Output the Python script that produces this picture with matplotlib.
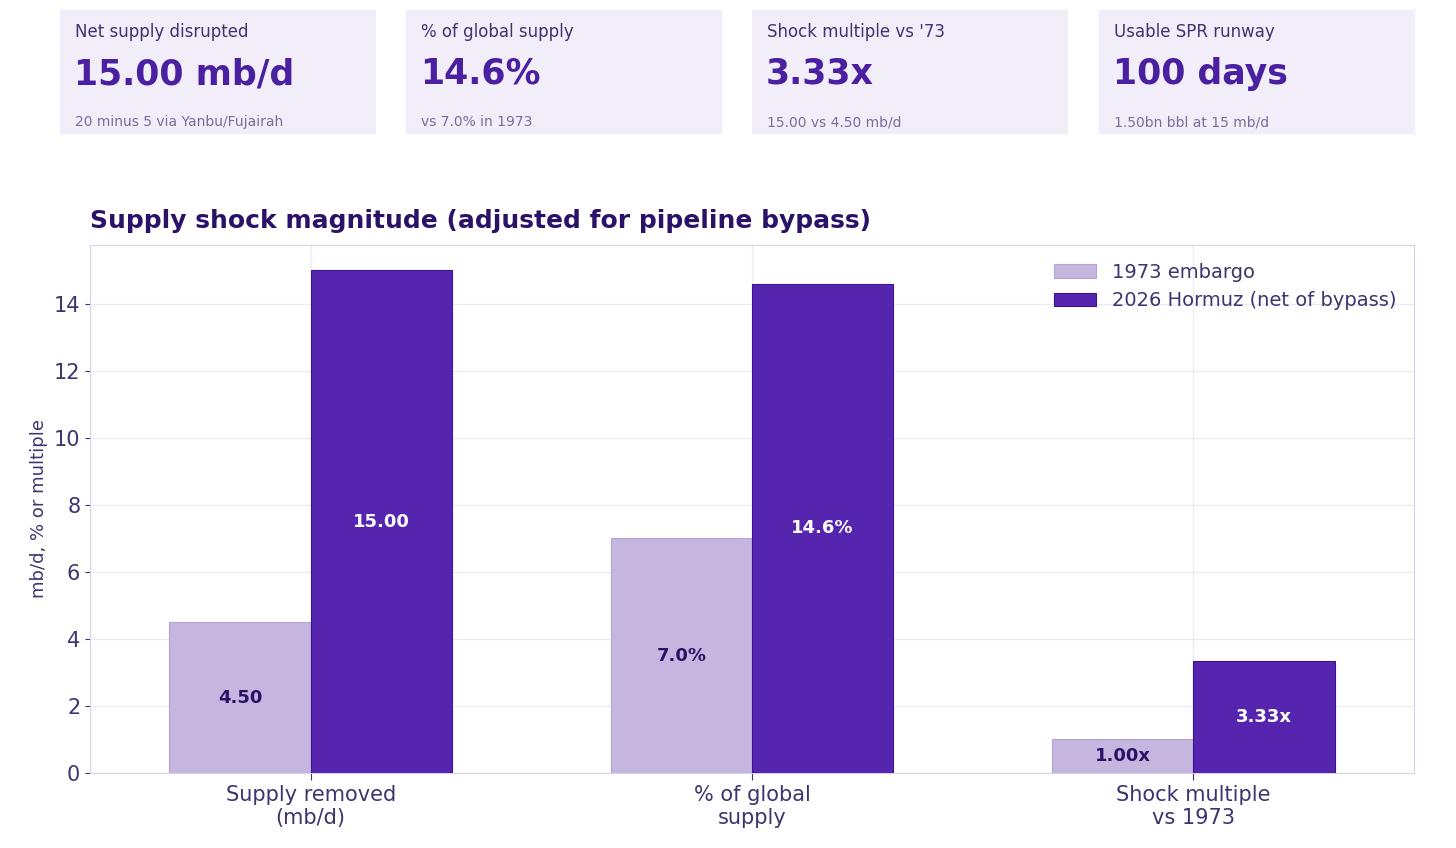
import numpy as np
import matplotlib
matplotlib.use("Agg")
import matplotlib.pyplot as plt
from matplotlib.patches import Rectangle

# data
categories = ["Supply removed\n(mb/d)", "% of global\nsupply", "Shock multiple\nvs 1973"]
vals_1973 = [4.50, 7.0, 1.00]
vals_2026 = [15.00, 14.6, 3.33]
labels_1973 = ["4.50", "7.0%", "1.00x"]
labels_2026 = ["15.00", "14.6%", "3.33x"]
series_names = ["1973 embargo", "2026 Hormuz (net of bypass)"]

card_titles = ["Net supply disrupted", "% of global supply", "Shock multiple vs '73", "Usable SPR runway"]
card_values = ["15.00 mb/d", "14.6%", "3.33x", "100 days"]
card_notes = ["20 minus 5 via Yanbu/Fujairah", "vs 7.0% in 1973", "15.00 vs 4.50 mb/d", "1.50bn bbl at 15 mb/d"]

LIGHT = "#c5b6e0"
DARK = "#5525b0"
TXT = "#3d3470"
CARD = "#f1eef9"

W, H = 1456, 848
fig = plt.figure(figsize=(W / 100, H / 100), dpi=100)

# KPI cards
card_x = [60, 406, 752, 1099]
for x0, t, v, n in zip(card_x, card_titles, card_values, card_notes):
    fig.patches.append(Rectangle((x0 / W, 1 - 133 / H), 315 / W, 123 / H,
                                 transform=fig.transFigure, color=CARD, zorder=0))
    fig.text((x0 + 15) / W, 1 - 32 / H, t, fontsize=12, color=TXT, va="center")
    fig.text((x0 + 14) / W, 1 - 74 / H, v, fontsize=25, color="#4a1fa0",
             fontweight="bold", va="center")
    fig.text((x0 + 15) / W, 1 - 122 / H, n, fontsize=10, color="#7a6e9a", va="center")

ax = fig.add_axes([90 / W, 75 / H, 1324 / W, 528 / H])
x = np.arange(len(categories))
bw = 0.32
b1 = ax.bar(x - bw / 2, vals_1973, bw, color=LIGHT, edgecolor="#b3a2d6", linewidth=0.8,
            label=series_names[0], zorder=3)
b2 = ax.bar(x + bw / 2, vals_2026, bw, color=DARK, edgecolor="#3b1590", linewidth=0.8,
            label=series_names[1], zorder=3)
for r, lab in zip(b1, labels_1973):
    ax.text(r.get_x() + r.get_width() / 2, r.get_height() / 2, lab, ha="center", va="center",
            fontsize=13, fontweight="bold", color="#2a1268", zorder=4)
for r, lab in zip(b2, labels_2026):
    ax.text(r.get_x() + r.get_width() / 2, r.get_height() / 2, lab, ha="center", va="center",
            fontsize=13, fontweight="bold", color="white", zorder=4)

ax.set_xlim(-0.5, 2.5)
ax.set_ylim(0, 15.76)
ax.set_yticks(range(0, 15, 2))
ax.set_xticks(x)
ax.set_xticklabels(categories, fontsize=15, color=TXT)
ax.tick_params(axis="y", labelsize=15, colors=TXT)
ax.tick_params(axis="x", colors=TXT, length=5)
ax.grid(True, color="#ecebf3", linewidth=1, zorder=0)
for s in ax.spines.values():
    s.set_color("#d8d3ea")
ax.set_ylabel("mb/d, % or multiple", fontsize=13, color=TXT)
ax.set_title("Supply shock magnitude (adjusted for pipeline bypass)", loc="left",
             fontsize=18, fontweight="bold", color="#2a1268", pad=12)
leg = ax.legend(loc="upper right", fontsize=14, frameon=False, labelcolor=TXT,
                handlelength=2.2)

fig.savefig("out.png", dpi=100, facecolor="white")
